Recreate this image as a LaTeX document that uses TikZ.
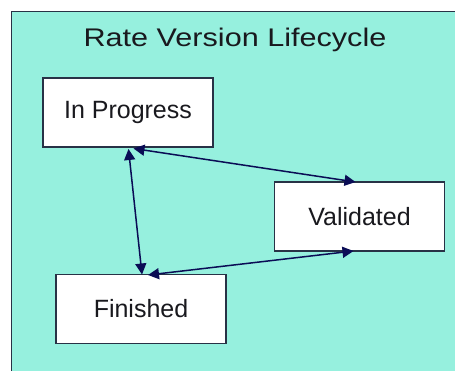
\documentclass[tikz,border=0pt]{standalone}
\usepackage{fontspec}
\setmainfont{Liberation Sans}
\usetikzlibrary{arrows.meta}
\definecolor{bgfill}{RGB}{150,240,222}
\definecolor{edgecol}{RGB}{40,50,70}
\definecolor{arrowcol}{RGB}{10,12,85}
\definecolor{txtcol}{RGB}{25,25,30}
\begin{document}
\begin{tikzpicture}[x=1pt,y=-1pt,
  statebox/.style={draw=edgecol,line width=1.3pt,fill=white,minimum width=170pt,minimum height=69pt,inner sep=0pt,font=\fontsize{25}{30}\selectfont,text=txtcol},
  link/.style={draw=arrowcol,line width=1.5pt,{Triangle[length=11pt,width=11pt]}-{Triangle[length=11pt,width=11pt]}}]
\useasboundingbox (0,0) rectangle (455,371);
\fill[white] (0,0) rectangle (455,371);
\draw[draw=edgecol,line width=1.3pt,fill=bgfill] (11.5,371.5) -- (11.5,11.5) -- (455.5,11.5) -- (455.5,371.5) -- cycle;
\node[text=txtcol,font=\fontsize{25.5}{30}\selectfont,anchor=base] (title) at (235,46.5) {\scalebox{1.2}[1]{Rate Version Lifecycle}};
\node[statebox] (ip) at (128,112.5) {In Progress};
\node[statebox] (val) at (359.5,216.5) {Validated};
\node[statebox] (fin) at (141,309) {Finished};
\coordinate (ipA) at (128.5,149);
\coordinate (ipB) at (133.5,148.5);
\coordinate (finA) at (142,274.5);
\coordinate (finB) at (148,275);
\coordinate (valT) at (355.5,182);
\coordinate (valB) at (353.5,251);
\draw[link] (ipA) -- (finA);
\draw[link] (ipB) -- (valT);
\draw[link] (finB) -- (valB);
\end{tikzpicture}
\end{document}
